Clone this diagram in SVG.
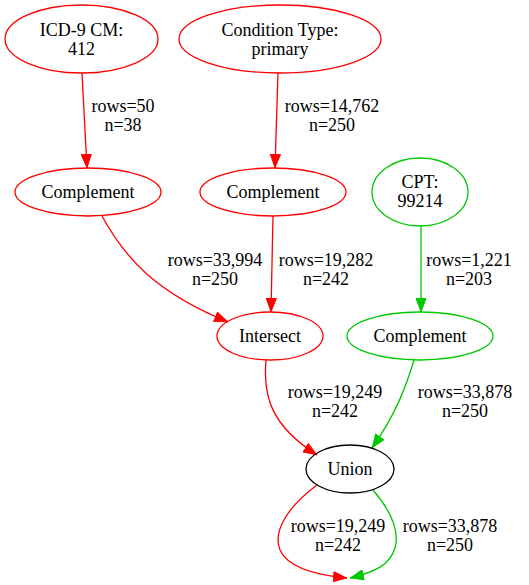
<svg xmlns="http://www.w3.org/2000/svg" width="529" height="585" viewBox="0 0 529 585">
<style>
text{font-family:"Liberation Serif","Times New Roman",serif;font-size:18px;text-anchor:middle;fill:#000}
.n ellipse{fill:none;stroke-width:1.3}
.r ellipse{stroke:#ff0000}
.g ellipse{stroke:#00c800}
.k ellipse{stroke:#000}
.e path{fill:none;stroke-width:1.3}
.er{stroke:#ff0000}
.eg{stroke:#00c800}
</style>
<defs>
<marker id="ar" markerUnits="userSpaceOnUse" markerWidth="14" markerHeight="11" refX="14" refY="5.5" orient="auto" viewBox="0 0 14 11"><path d="M0.5,0.5 L13.5,5.5 L0.5,10.5 z" fill="#ff0000" stroke="#ff0000"/></marker>
<marker id="ag" markerUnits="userSpaceOnUse" markerWidth="14" markerHeight="11" refX="14" refY="5.5" orient="auto" viewBox="0 0 14 11"><path d="M0.5,0.5 L13.5,5.5 L0.5,10.5 z" fill="#00c800" stroke="#00c800"/></marker>
</defs>
<rect width="529" height="585" fill="#fff"/>
<g id="edges" class="e">
<path class="er" d="M82,73 L87,168" marker-end="url(#ar)"/>
<text x="123" y="112">rows=50</text><text x="123" y="131">n=38</text>
<path class="er" d="M278,73 L275,168" marker-end="url(#ar)"/>
<text x="332" y="112">rows=14,762</text><text x="332" y="131">n=250</text>
<path class="er" d="M102,216 C125,258 155,292 228,322" marker-end="url(#ar)"/>
<text x="215" y="266">rows=33,994</text><text x="215" y="285">n=250</text>
<path class="er" d="M273,216 L271,312" marker-end="url(#ar)"/>
<text x="326" y="266">rows=19,282</text><text x="326" y="285">n=242</text>
<path class="eg" d="M421,226 L421,312" marker-end="url(#ag)"/>
<text x="469" y="266">rows=1,221</text><text x="469" y="285">n=203</text>
<path class="er" d="M266,360 C263,395 270,425 317,455" marker-end="url(#ar)"/>
<text x="335" y="398">rows=19,249</text><text x="335" y="417">n=242</text>
<path class="eg" d="M414,360 C405,390 395,415 372,448" marker-end="url(#ag)"/>
<text x="465" y="398">rows=33,878</text><text x="465" y="417">n=250</text>
<path class="er" d="M317,485 C290,505 272,530 280,550 C288,568 315,575 347,578" marker-end="url(#ar)"/>
<text x="338" y="532">rows=19,249</text><text x="338" y="551">n=242</text>
<path class="eg" d="M373,490 C390,510 400,530 395,548 C390,565 375,572 350,578" marker-end="url(#ag)"/>
<text x="450" y="532">rows=33,878</text><text x="450" y="551">n=250</text>
</g>
<g id="icd" class="n r"><ellipse cx="81.5" cy="39" rx="76.5" ry="34"/><text x="81.5" y="36">ICD-9 CM:</text><text x="81.5" y="55">412</text></g>
<g id="cond" class="n r"><ellipse cx="280" cy="39" rx="101" ry="34"/><text x="280" y="36">Condition Type:</text><text x="280" y="55">primary</text></g>
<g id="comp1" class="n r"><ellipse cx="88" cy="192" rx="73" ry="24"/><text x="88" y="198">Complement</text></g>
<g id="comp2" class="n r"><ellipse cx="273" cy="192" rx="73" ry="24"/><text x="273" y="198">Complement</text></g>
<g id="cpt" class="n g"><ellipse cx="420" cy="192" rx="48" ry="34"/><text x="420" y="188">CPT:</text><text x="420" y="207">99214</text></g>
<g id="intersect" class="n r"><ellipse cx="270" cy="336" rx="53" ry="24"/><text x="270" y="342">Intersect</text></g>
<g id="comp3" class="n g"><ellipse cx="420" cy="336" rx="73" ry="24"/><text x="420" y="342">Complement</text></g>
<g id="union" class="n k"><ellipse cx="350" cy="469" rx="44" ry="24"/><text x="350" y="475">Union</text></g>
</svg>
